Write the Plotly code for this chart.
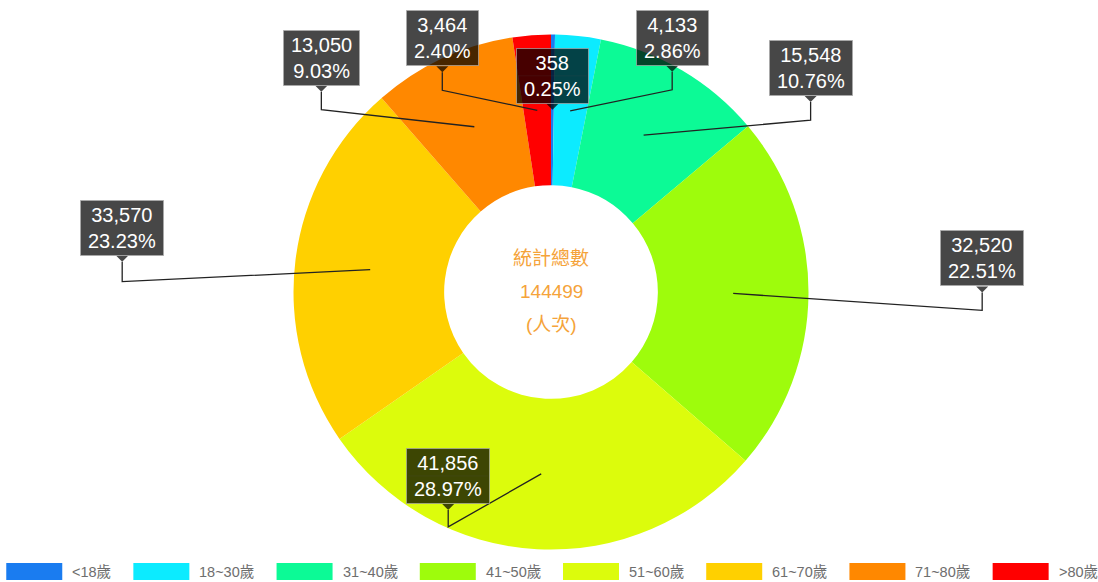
import math
import plotly.graph_objects as go

# ---------------- data ----------------
categories = ["<18歲", "18~30歲", "31~40歲", "41~50歲", "51~60歲", "61~70歲", "71~80歲", ">80歲"]
values = [358, 4133, 15548, 32520, 41856, 33570, 13050, 3464]
colors = ["#1A7CF0", "#0CEBFF", "#0CFA96", "#9EFC0C", "#DCFC0C", "#FFD000", "#FF8800", "#FF0000"]
center_title = "統計總數"
center_unit = "(人次)"

# ---------------- label layout (pixel offsets of callouts) ----------------
elbow_dx = [0, 102, 167, 249, -93, -248, -153, -95]
elbow_dy = [0, -21, -15, 17, 53, 12, -17, -20]
stem_len = [0, 18, 18, 18, 17, 20, 18, 18]

W, H = 1098, 582
CX, CY, R = 551, 292, 257.5
HOLE = 0.415
FONT = "Liberation Sans, Arial, Noto Sans CJK TC, sans-serif"
BOX_BG = "rgba(0,0,0,0.72)"


def px(x):
    return x / W


def py(y):
    return 1 - y / H


def text_w(s, size):
    w = 0.0
    for ch in s:
        if ch.isdigit():
            w += 0.556
        elif ch in ",.":
            w += 0.278
        elif ch == "%":
            w += 0.889
        elif ch in "<>~":
            w += 0.584
        elif ch in "()":
            w += 0.333
        elif ord(ch) > 0x2E80:
            w += 1.0
        else:
            w += 0.556
    return w * size


fig = go.Figure()
fig.add_trace(go.Pie(
    labels=categories,
    values=values,
    marker=dict(colors=colors, line=dict(width=0)),
    hole=HOLE,
    sort=False,
    direction="clockwise",
    rotation=0,
    textinfo="none",
    hoverinfo="label+value+percent",
    showlegend=False,
    domain=dict(x=[(CX - R) / W, (CX + R) / W], y=[(H - CY - R) / H, (H - CY + R) / H]),
))

shapes = []
annotations = []

total = sum(values)
Rm = R * (1 + HOLE) / 2
cum = 0
for i, v in enumerate(values):
    mid = (cum + v / 2) / total
    cum += v
    th = 2 * math.pi * mid
    ax = CX + Rm * math.sin(th)
    ay = CY - Rm * math.cos(th)
    ex = ax + elbow_dx[i]
    ey = ay + elbow_dy[i]
    tip = ey - stem_len[i]
    bottom = tip - 6
    bcy = bottom - 28
    l1 = f"{v:,}"
    l2 = f"{v / total * 100:.2f}%"
    bw = max(text_w(l1, 20), text_w(l2, 20)) + 12
    if stem_len[i] > 0 or elbow_dx[i] != 0:
        shapes.append(dict(type="path", xref="paper", yref="paper",
                           path=f"M{px(ax)},{py(ay)} L{px(ex)},{py(ey)} L{px(ex)},{py(tip)}",
                           line=dict(color="#222222", width=1.3)))
    shapes.append(dict(type="path", xref="paper", yref="paper",
                       path=f"M{px(ex - 6)},{py(bottom)} L{px(ex + 6)},{py(bottom)} L{px(ex)},{py(tip)} Z",
                       fillcolor=BOX_BG, line=dict(width=0)))
    annotations.append(dict(x=px(ex), y=py(bcy), xref="paper", yref="paper",
                            xanchor="center", yanchor="middle", showarrow=False,
                            text=f"{l1}<br>{l2}", font=dict(family=FONT, size=20, color="white"),
                            bgcolor=BOX_BG, bordercolor="rgba(170,170,170,0.7)", borderwidth=1,
                            borderpad=1, width=bw, height=52, align="center"))
    shapes.append(dict(type="line", xref="paper", yref="paper",
                       x0=px(ex - bw / 2), x1=px(ex + bw / 2), y0=py(bcy), y1=py(bcy),
                       line=dict(color="rgba(255,255,255,0.18)", width=1)))

# centre text
center_color = "#F5A33A"
for txt, yy in [(center_title, 258), (f"{total}", 291), (center_unit, 324)]:
    annotations.append(dict(x=px(CX), y=py(yy), xref="paper", yref="paper",
                            xanchor="center", yanchor="middle", showarrow=False,
                            text=txt, font=dict(family=FONT, size=19, color=center_color)))

# legend (manual)
SW, SH, GAP1, GAP2, LFS = 56, 17, 8, 24, 14.5
widths = [SW + GAP1 + text_w(c, LFS) for c in categories]
total_w = sum(widths) + GAP2 * (len(categories) - 1)
x = CX - total_w / 2
LY = 571.5
for c, col, w in zip(categories, colors, widths):
    shapes.append(dict(type="rect", xref="paper", yref="paper",
                       x0=px(x), x1=px(x + SW), y0=py(LY + SH / 2), y1=py(LY - SH / 2),
                       fillcolor=col, line=dict(width=0)))
    annotations.append(dict(x=px(x + SW + GAP1), y=py(LY), xref="paper", yref="paper",
                            xanchor="left", yanchor="middle", showarrow=False,
                            text=c, font=dict(family=FONT, size=LFS, color="#6E6E6E")))
    x += w + GAP2

fig.update_layout(
    width=W, height=H,
    margin=dict(l=0, r=0, t=0, b=0),
    paper_bgcolor="white",
    plot_bgcolor="white",
    shapes=shapes,
    annotations=annotations,
    showlegend=False,
)

fig.write_html("out.html", config={"displayModeBar": False},
               post_script="document.body.style.margin='0';")
